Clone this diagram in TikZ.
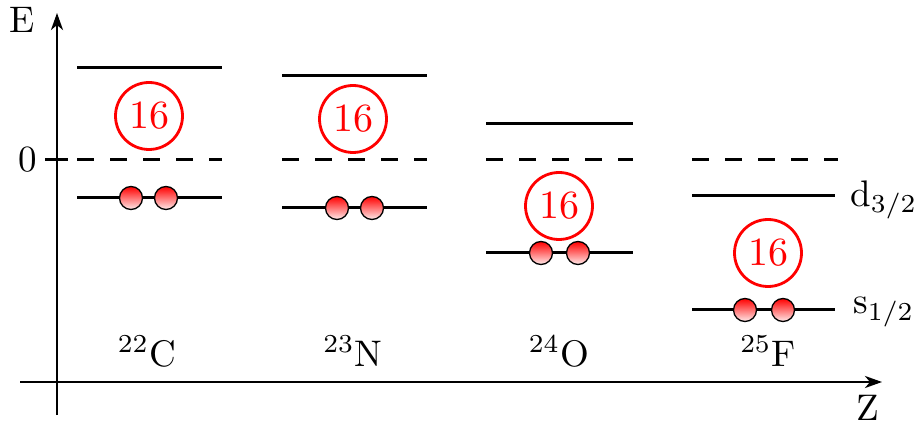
\documentclass[tikz,border=0pt]{standalone}
\usetikzlibrary{arrows.meta}
\newcommand{\lab}[1]{\scalebox{3.7}{\fontsize{10}{12}\selectfont #1}}
\newcommand{\cnt}[1]{\scalebox{4}{\fontsize{10}{12}\selectfont #1}}
\tikzset{
  axis/.style={line width=2.6pt,-{Stealth[length=17pt,width=12pt,inset=5pt]}},
  level/.style={line width=3pt},
  zero/.style={line width=3pt,dash pattern=on 16.5pt off 16.5pt},
  count/.style={circle,draw=red,line width=2.8pt,text=red,minimum size=67pt,inner sep=0pt},
  ball/.style={circle,draw=black,line width=1.3pt,minimum size=23pt,inner sep=0pt,top color=red,bottom color=red!8},
  lbl/.style={inner sep=0pt},
}
\begin{document}
\begin{tikzpicture}[x=1pt,y=-1pt]
\useasboundingbox (0,0) rectangle (915,427);
% axes
\coordinate (ybot) at (57,415);
\coordinate (ytop) at (57,13);
\coordinate (xl) at (20,382);
\coordinate (xr) at (882,382);
\draw[axis] (ybot) -- (ytop);
\draw[axis] (xl) -- (xr);
\node[lbl] (E) at (22,20) {\lab{E}};
\node[lbl] (Z) at (868,408) {\lab{Z}};
\node[lbl] (zlab) at (28,160) {\lab{0}};
\coordinate (t1) at (45,160);
\coordinate (t2) at (68,160);
\draw[line width=3pt] (t1) -- (t2);
% columns: left x, right x, upper level y, lower level y
\foreach \n/\l/\r/\up/\lo in {a/77/222/68/198, b/282/427/76/208, c/486/633/124/253}{
  \coordinate (\n ul) at (\l,\up); \coordinate (\n ur) at (\r,\up);
  \coordinate (\n zl) at (\l,160); \coordinate (\n zr) at (\r,160);
  \coordinate (\n ll) at (\l,\lo); \coordinate (\n lr) at (\r,\lo);
  \draw[level] (\n ul) -- (\n ur);
  \draw[zero] (\n zl) -- (\n zr);
  \draw[level] (\n ll) -- (\n lr);
}
% column d
\coordinate (d zl) at (692,160); \coordinate (d zr) at (838,160);
\coordinate (d ul) at (692,196); \coordinate (d ur) at (835,196);
\coordinate (d ll) at (692,310); \coordinate (d lr) at (835,310);
\draw[zero] (d zl) -- (d zr);
\draw[level] (d ul) -- (d ur);
\draw[level] (d ll) -- (d lr);
% counts
\node[count] (ca) at (149,116) {\cnt{16}};
\node[count] (cb) at (353,119) {\cnt{16}};
\node[count] (cc) at (559,206) {\cnt{16}};
\node[count] (cd) at (768,253) {\cnt{16}};
% balls
\node[ball] (a1) at (131,198) {};
\node[ball] (a2) at (166,198) {};
\node[ball] (b1) at (337,208) {};
\node[ball] (b2) at (372,208) {};
\node[ball] (c1) at (541,253) {};
\node[ball] (c2) at (578,253) {};
\node[ball] (d1) at (745,310) {};
\node[ball] (d2) at (783,310) {};
% isotope labels
\node[lbl,anchor=base] (la) at (147,366) {\lab{$^{22}$C}};
\node[lbl,anchor=base] (lb) at (353,366) {\lab{$^{23}$N}};
\node[lbl,anchor=base] (lc) at (559,366) {\lab{$^{24}$O}};
\node[lbl,anchor=base] (ld) at (768,366) {\lab{$^{25}$F}};
% orbital labels
\node[lbl,anchor=west] (dl) at (850,200) {\lab{d$_{3/2}$}};
\node[lbl,anchor=west] (sl) at (853,312) {\lab{s$_{1/2}$}};
\end{tikzpicture}
\end{document}
